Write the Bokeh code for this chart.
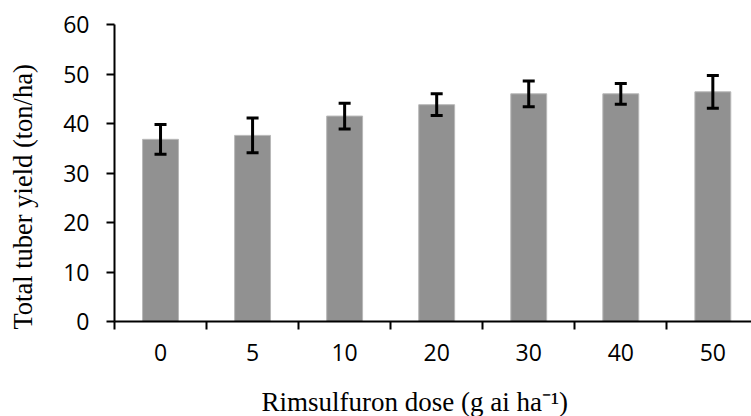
from bokeh.plotting import figure
from bokeh.models import Range1d, FixedTicker, Whisker, ColumnDataSource, TeeHead, Title
from bokeh.embed import file_html
from bokeh.resources import INLINE

# Data
doses = ["0", "5", "10", "20", "30", "40", "50"]
yield_mean = [36.8, 37.6, 41.5, 43.8, 46.0, 46.0, 46.4]
yield_err = [3.0, 3.5, 2.6, 2.2, 2.6, 2.1, 3.3]
y_ticks = [0, 10, 20, 30, 40, 50, 60]
x_title = "Rimsulfuron dose (g ai ha\u207b\u00b9)"
y_title = "Total tuber yield (ton/ha)"

xs = list(range(len(doses)))
src = ColumnDataSource(dict(
    x=xs,
    top=yield_mean,
    upper=[m + e for m, e in zip(yield_mean, yield_err)],
    lower=[m - e for m, e in zip(yield_mean, yield_err)],
))

p = figure(width=751, height=416, output_backend="svg", toolbar_location=None,
           x_range=Range1d(-0.5, 6.42), y_range=Range1d(0, 60),
           min_border_left=114, min_border_right=0, min_border_top=24,
           min_border_bottom=94)
p.outline_line_color = None
p.grid.visible = False
p.background_fill_color = "white"
p.border_fill_color = "white"

p.vbar(x="x", top="top", width=0.39, bottom=0, source=src,
       fill_color="#919191", line_color="#b8b8b8", line_width=1)

w = Whisker(base="x", upper="upper", lower="lower", source=src, level="overlay",
            line_color="black", line_width=3,
            upper_head=TeeHead(size=12, line_color="black", line_width=3),
            lower_head=TeeHead(size=12, line_color="black", line_width=3))
p.add_layout(w)

# X axis
xa = p.xaxis[0]
xa.ticker = FixedTicker(ticks=xs, minor_ticks=[i - 0.5 for i in xs])
xa.major_label_overrides = {i: d for i, d in zip(xs, doses)}
xa.major_tick_out = 0
xa.major_tick_in = 0
xa.minor_tick_out = 8
xa.minor_tick_in = 0
xa.minor_tick_line_width = 2
xa.minor_tick_line_color = "black"
xa.axis_line_width = 2
xa.axis_line_color = "black"
xa.major_label_text_font = "Open Sans"
xa.major_label_text_font_size = "23px"
xa.major_label_text_color = "black"
xa.major_label_standoff = 14
# blank axis label used only as spacing before the title panel
xa.axis_label = " "
xa.axis_label_text_font_size = "1px"
xa.axis_label_standoff = 17

# Y axis
ya = p.yaxis[0]
ya.ticker = FixedTicker(ticks=y_ticks, minor_ticks=[])
ya.major_tick_out = 8
ya.major_tick_in = 0
ya.major_tick_line_width = 2
ya.major_tick_line_color = "black"
ya.axis_line_width = 2
ya.axis_line_color = "black"
ya.major_label_text_font = "Open Sans"
ya.major_label_text_font_size = "23px"
ya.major_label_text_color = "black"
ya.major_label_standoff = 17
ya.axis_label = " "
ya.axis_label_text_font_size = "1px"
ya.axis_label_standoff = 19

# Axis titles (offset like the original chart area)
p.add_layout(Title(text=x_title, align="left", offset=147, standoff=0,
                   text_font="Liberation Serif", text_font_size="27px",
                   text_font_style="normal", text_color="black"), "below")
p.add_layout(Title(text=y_title, align="left", offset=-8, standoff=0,
                   text_font="Liberation Serif", text_font_size="26.5px",
                   text_font_style="normal", text_color="black"), "left")

open("out.html", "w").write(file_html(p, INLINE))
